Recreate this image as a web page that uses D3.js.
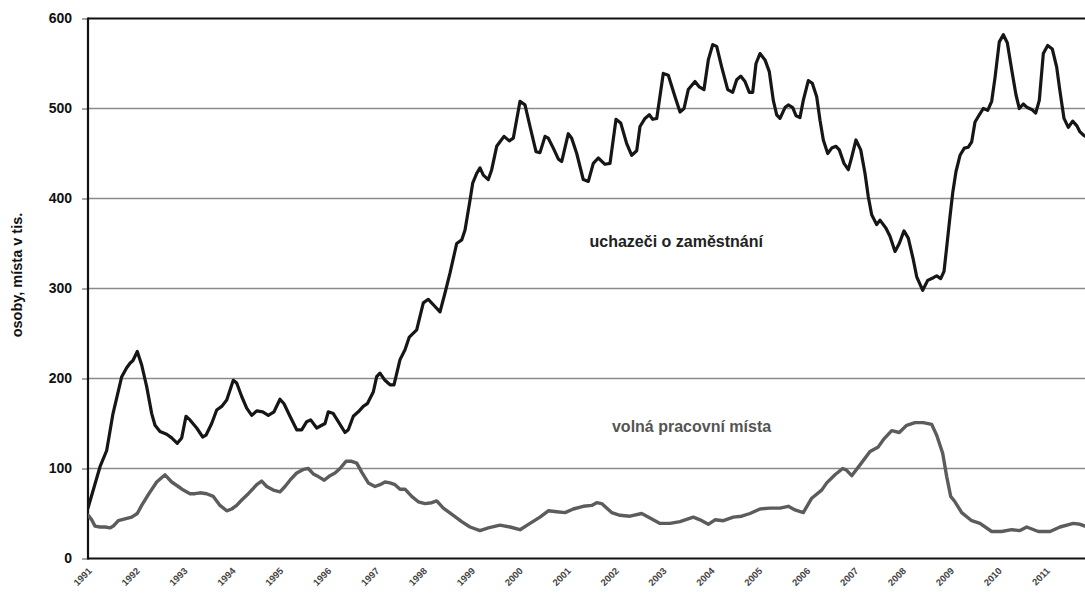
<!DOCTYPE html>
<html>
<head>
<meta charset="utf-8">
<script src="https://cdn.jsdelivr.net/npm/d3@7"></script>
<style>
  html, body { margin: 0; padding: 0; background: #fff; }
  svg { display: block; font-family: "Liberation Sans", Arial, Helvetica, sans-serif; }
</style>
</head>
<body>
<svg id="chart" width="1085" height="593"></svg>
<script>
// ---- data ----
const yearTicks = [1991,1992,1993,1994,1995,1996,1997,1998,1999,2000,2001,2002,2003,2004,2005,2006,2007,2008,2009,2010,2011];
const yTicks = [0,100,200,300,400,500,600];
const seriesNames = ["uchazeči o zaměstnání", "volná pracovní místa"];
const axisTitle = "osoby, místa v tis.";

// [time offset in years from Jan 1991, value in thousands]
const uchazeci = [
[0.000,56],[0.251,102],[0.390,120],[0.522,161],[0.704,202],[0.808,212],[0.877,217],[0.939,220],[1.029,230],[1.121,215],
[1.225,191],[1.330,161],[1.399,148],[1.503,141],[1.643,138],[1.747,134],[1.864,128],[1.956,134],[2.046,158],[2.129,154],
[2.269,145],[2.395,135],[2.463,137],[2.582,150],[2.687,165],[2.791,169],[2.896,176],[3.033,198],[3.104,195],[3.209,180],
[3.313,167],[3.418,159],[3.522,164],[3.647,163],[3.764,159],[3.883,163],[4.008,177],[4.092,172],[4.217,158],[4.357,143],
[4.461,143],[4.566,152],[4.649,154],[4.775,145],[4.948,150],[5.017,163],[5.121,161],[5.225,152],[5.365,140],[5.434,143],
[5.539,158],[5.643,163],[5.747,169],[5.831,172],[5.956,185],[6.027,202],[6.096,206],[6.200,198],[6.305,193],[6.388,193],
[6.514,221],[6.618,232],[6.708,246],[6.862,254],[7.000,284],[7.104,288],[7.244,280],[7.349,274],[7.453,295],[7.557,317],
[7.697,350],[7.802,354],[7.871,365],[7.975,398],[8.031,417],[8.115,428],[8.184,434],[8.253,426],[8.357,421],[8.428,432],
[8.532,458],[8.601,463],[8.685,469],[8.795,464],[8.879,467],[9.019,508],[9.123,504],[9.228,480],[9.353,452],[9.436,451],
[9.541,469],[9.610,467],[9.714,456],[9.818,444],[9.889,441],[10.027,472],[10.098,467],[10.203,450],[10.340,421],[10.445,419],
[10.549,439],[10.653,445],[10.793,438],[10.898,439],[11.023,488],[11.121,484],[11.246,461],[11.351,448],[11.455,453],[11.524,480],
[11.628,489],[11.718,493],[11.789,488],[11.873,489],[12.010,539],[12.115,537],[12.255,513],[12.359,496],[12.443,500],[12.532,521],
[12.672,530],[12.762,524],[12.860,521],[12.950,554],[13.042,571],[13.125,569],[13.230,546],[13.355,521],[13.459,518],[13.543,532],
[13.626,536],[13.716,530],[13.806,518],[13.877,518],[13.946,550],[14.029,561],[14.134,554],[14.223,541],[14.307,509],[14.378,493],
[14.447,489],[14.551,501],[14.620,504],[14.712,501],[14.781,492],[14.864,490],[14.933,509],[15.038,531],[15.121,528],[15.213,513],
[15.282,487],[15.351,465],[15.443,450],[15.526,456],[15.616,458],[15.685,454],[15.783,439],[15.873,432],[15.944,446],[16.033,465],
[16.132,454],[16.221,428],[16.290,402],[16.361,382],[16.465,371],[16.534,376],[16.660,367],[16.743,358],[16.848,341],[16.937,350],
[17.035,364],[17.125,356],[17.230,332],[17.301,313],[17.426,298],[17.530,309],[17.647,312],[17.718,314],[17.802,311],[17.871,319],
[17.927,346],[17.996,380],[18.052,406],[18.121,430],[18.205,448],[18.295,456],[18.378,457],[18.449,463],[18.518,485],[18.608,493],
[18.691,500],[18.783,498],[18.866,508],[18.935,534],[19.025,574],[19.109,582],[19.192,573],[19.284,543],[19.374,515],[19.443,500],
[19.526,505],[19.610,501],[19.701,499],[19.785,495],[19.860,509],[19.944,561],[20.035,570],[20.132,566],[20.223,546],[20.292,519],
[20.376,489],[20.466,479],[20.557,486],[20.641,481],[20.710,474],[20.793,470],[20.850,468]
];

const mista = [
[0.006,48],[0.077,43],[0.146,36],[0.251,35],[0.355,35],[0.459,34],[0.528,36],[0.633,42],[0.772,44],[0.912,46],
[1.029,50],[1.121,59],[1.259,71],[1.434,85],[1.608,93],[1.747,85],[1.885,80],[1.990,76],[2.129,72],[2.234,72],
[2.338,73],[2.478,72],[2.616,69],[2.756,59],[2.896,53],[3.000,55],[3.104,59],[3.209,65],[3.347,72],[3.451,78],
[3.522,82],[3.626,86],[3.731,80],[3.868,76],[4.008,74],[4.113,80],[4.217,87],[4.357,95],[4.495,99],[4.599,100],
[4.704,94],[4.808,91],[4.933,87],[5.052,92],[5.157,95],[5.261,100],[5.386,108],[5.505,108],[5.610,106],[5.714,96],
[5.852,84],[5.992,80],[6.096,82],[6.200,85],[6.305,84],[6.409,82],[6.514,77],[6.618,77],[6.758,69],[6.896,63],
[7.035,61],[7.175,62],[7.280,64],[7.418,56],[7.626,48],[7.802,41],[7.975,35],[8.184,31],[8.357,34],[8.601,37],
[8.810,35],[9.019,32],[9.228,39],[9.436,46],[9.610,53],[9.785,52],[9.958,51],[10.132,55],[10.340,58],[10.516,59],
[10.620,62],[10.724,61],[10.933,51],[11.106,48],[11.315,47],[11.559,50],[11.733,45],[11.942,39],[12.150,39],[12.359,41],
[12.637,46],[12.777,43],[12.950,38],[13.090,43],[13.263,42],[13.472,46],[13.647,47],[13.820,50],[14.029,55],[14.238,56],
[14.447,56],[14.620,58],[14.760,54],[14.933,51],[15.109,67],[15.317,76],[15.422,84],[15.595,93],[15.756,100],[15.839,98],
[15.944,92],[16.117,104],[16.326,119],[16.499,124],[16.604,132],[16.779,142],[16.937,140],[17.092,148],[17.265,151],[17.438,151],
[17.614,149],[17.718,137],[17.843,117],[17.927,91],[18.010,69],[18.100,63],[18.240,51],[18.449,42],[18.622,39],[18.866,30],
[19.075,30],[19.284,32],[19.457,31],[19.597,35],[19.839,30],[20.084,30],[20.292,35],[20.570,39],[20.710,38],[20.814,36],[20.850,36]
];

// ---- layout ----
const W = 1085, H = 593;
const mLeft = 88, mRight = 1085, mTop = 18.5, mBottom = 558.5;
const pxPerYear = 47.9;

const svg = d3.select("#chart");
const x = d3.scaleLinear()
  .domain([1991, 1991 + (mRight - mLeft) / pxPerYear])
  .range([mLeft, mRight]);
const y = d3.scaleLinear().domain([0, 600]).range([mBottom, mTop]);

// gridlines
svg.append("g")
  .selectAll("line")
  .data(yTicks.filter(d => d > 0 && d < 600))
  .join("line")
  .attr("x1", mLeft).attr("x2", mRight)
  .attr("y1", d => y(d)).attr("y2", d => y(d))
  .attr("stroke", "#8a8a8a").attr("stroke-width", 1.6);

// y axis (ticks + labels)
const yAxis = svg.append("g")
  .attr("transform", `translate(${mLeft},0)`)
  .call(d3.axisLeft(y).tickValues(yTicks).tickSize(6).tickPadding(10).tickFormat(d3.format("d")));
yAxis.select(".domain").remove();
yAxis.selectAll(".tick line").attr("stroke", "#8a8a8a").attr("stroke-width", 1.5);
yAxis.selectAll(".tick text")
  .attr("fill", "#111")
  .style("font-size", "14px")
  .style("font-weight", "bold")
  .style("font-family", "'Liberation Sans', Arial, sans-serif");

// x axis labels
const xAxis = svg.append("g")
  .attr("transform", `translate(0,${mBottom})`)
  .call(d3.axisBottom(x).tickValues(yearTicks).tickSize(0).tickFormat(d3.format("d")));
xAxis.select(".domain").remove();
xAxis.selectAll(".tick text")
  .attr("text-anchor", "end")
  .attr("x", 0).attr("y", 0).attr("dy", 0)
  .attr("transform", "translate(4,13) rotate(-45)")
  .attr("fill", "#444")
  .style("font-size", "9.5px")
  .style("font-weight", "bold")
  .style("font-family", "'Liberation Sans', Arial, sans-serif");

// frame: left axis, bottom axis, top line
svg.append("line").attr("x1", mLeft).attr("x2", mLeft).attr("y1", mTop - 1).attr("y2", mBottom + 1)
  .attr("stroke", "#111").attr("stroke-width", 2.2);
svg.append("line").attr("x1", mLeft).attr("x2", mRight).attr("y1", mBottom).attr("y2", mBottom)
  .attr("stroke", "#111").attr("stroke-width", 2.2);
svg.append("line").attr("x1", mLeft).attr("x2", mRight).attr("y1", mTop).attr("y2", mTop)
  .attr("stroke", "#111").attr("stroke-width", 2.2);

// clip
svg.append("clipPath").attr("id", "plotclip")
  .append("rect").attr("x", mLeft).attr("y", 0).attr("width", mRight - mLeft).attr("height", H);

const line = d3.line()
  .x(d => x(1991 + d[0]))
  .y(d => y(d[1]))
  .curve(d3.curveLinear);

svg.append("path")
  .datum(mista)
  .attr("clip-path", "url(#plotclip)")
  .attr("d", line)
  .attr("fill", "none")
  .attr("stroke", "#5c5c5c")
  .attr("stroke-width", 3.4)
  .attr("stroke-linejoin", "round")
  .attr("stroke-linecap", "round");

svg.append("path")
  .datum(uchazeci)
  .attr("clip-path", "url(#plotclip)")
  .attr("d", line)
  .attr("fill", "none")
  .attr("stroke", "#161616")
  .attr("stroke-width", 3.2)
  .attr("stroke-linejoin", "round")
  .attr("stroke-linecap", "round");

// series labels
svg.append("text")
  .attr("x", x(2003.28)).attr("y", y(346))
  .attr("text-anchor", "middle")
  .attr("fill", "#222")
  .style("font-size", "16px").style("font-weight", "bold")
  .text(seriesNames[0]);

svg.append("text")
  .attr("x", x(2003.6)).attr("y", y(140.5))
  .attr("text-anchor", "middle")
  .attr("fill", "#555")
  .style("font-size", "16px").style("font-weight", "bold")
  .text(seriesNames[1]);

// y axis title
svg.append("text")
  .attr("transform", `translate(22,275) rotate(-90)`)
  .attr("text-anchor", "middle")
  .attr("fill", "#111")
  .style("font-size", "14.5px").style("font-weight", "bold")
  .text(axisTitle);
</script>
</body>
</html>
